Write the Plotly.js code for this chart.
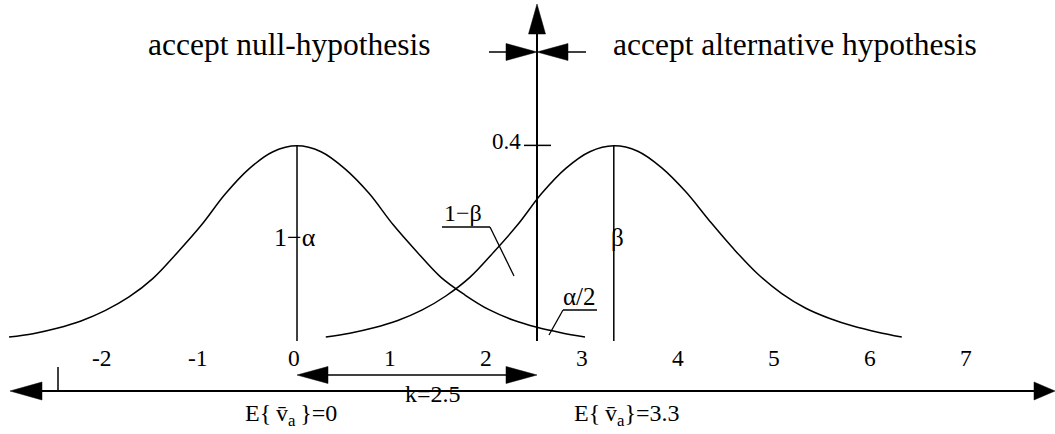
<!DOCTYPE html>
<html>
<head>
<meta charset="utf-8">
<script src="https://cdn.plot.ly/plotly-3.0.1.min.js"></script>
<style>
  html, body { margin: 0; padding: 0; background: #fff; }
  #chart { width: 1055px; height: 434px; }
</style>
</head>
<body>
<div id="chart"></div>
<script>
// Two sampling distributions of the test statistic: null (mean 0) and alternative (mean 3.3),
// with the critical value k = 2.5 splitting acceptance regions.

// Standardised offsets from each mean and the density read at those offsets
const zOffsets   = [-3, -2.75, -2.5, -2.25, -2, -1.75, -1.5, -1.25, -1, -0.75, -0.5, -0.25, 0,
                     0.25, 0.5, 0.75, 1, 1.25, 1.5, 1.75, 2, 2.25, 2.5, 2.75, 3];
const nullDensity = [0.008, 0.015, 0.026, 0.041, 0.062, 0.090, 0.128, 0.180, 0.236, 0.300, 0.352, 0.387, 0.399,
                     0.387, 0.352, 0.302, 0.238, 0.182, 0.130, 0.094, 0.064, 0.043, 0.028, 0.017, 0.008];
const altDensity  = [0.008, 0.016, 0.027, 0.042, 0.063, 0.092, 0.130, 0.182, 0.238, 0.302, 0.353, 0.387, 0.399,
                     0.388, 0.354, 0.305, 0.245, 0.188, 0.137, 0.097, 0.067, 0.046, 0.030, 0.018, 0.008];

const nullMean = 0;
const altMean = 3.3;
const criticalK = 2.5;
const densityTick = 0.4;
const densityTickLabel = '0.4';

const tickValues = [-2, -1, 0, 1, 2, 3, 4, 5, 6, 7];
const tickLabels = ['-2', '-1', '0', '1', '2', '3', '4', '5', '6', '7'];

// ---- drawing frame ----
const W = 1055, H = 434;
const xRange = [-3.094, 7.896];
const yRange = [-0.1902, 0.6973];
const kx = W / (xRange[1] - xRange[0]);   // px per x unit
const ky = H / (yRange[1] - yRange[0]);   // px per y unit
const xp = px => xRange[0] + px / kx;     // pixel column -> x value
const yp = py => yRange[1] - py / ky;     // pixel row -> y value
const X = v => (v - xRange[0]) * kx;      // x value -> pixel column

const FONT = 'Liberation Serif, Times New Roman, serif';
const INK = '#000';

function seg(x0, y0, x1, y1, w) {
  return { type: 'line', xref: 'x', yref: 'y', x0, y0, x1, y1,
           line: { color: INK, width: w || 1.5 } };
}
// filled arrow head: tip and base centre in pixels, half width in pixels
function head(tx, ty, bx, by, hw) {
  const dx = tx - bx, dy = ty - by, L = Math.hypot(dx, dy);
  const nx = -dy / L * hw, ny = dx / L * hw;
  const pts = [[tx, ty], [bx + nx, by + ny], [bx - nx, by - ny]]
    .map(p => xp(p[0]) + ',' + yp(p[1]));
  return { type: 'path', xref: 'x', yref: 'y', path: 'M' + pts.join(' L') + ' Z',
           fillcolor: INK, line: { color: INK, width: 0.5 } };
}

const traces = [
  { x: zOffsets.map(z => nullMean + z), y: nullDensity, mode: 'lines',
    line: { color: INK, width: 1.5, shape: 'spline', smoothing: 1 }, hoverinfo: 'skip' },
  { x: zOffsets.map(z => altMean + z), y: altDensity, mode: 'lines',
    line: { color: INK, width: 1.5, shape: 'spline', smoothing: 1 }, hoverinfo: 'skip' }
];

const axisRow = 391, kRow = 375, splitRow = 52;
const cK = X(criticalK);
const c0 = X(nullMean);
const shapes = [
  // horizontal measurement axis with arrows both ways
  seg(xp(38), yp(axisRow), xp(1036), yp(axisRow), 2),
  head(10, axisRow, 42, axisRow, 9),
  head(1055, axisRow, 1034, axisRow, 9),
  seg(xp(58), yp(367), xp(58), yp(axisRow), 1.5),
  // k span from null mean to the critical value
  seg(xp(c0 + 28), yp(kRow), xp(cK - 28), yp(kRow), 1.5),
  head(c0, kRow, c0 + 31, kRow, 8.5),
  head(cK, kRow, cK - 31, kRow, 8.5),
  // critical value line acting as density axis
  seg(criticalK, 0, criticalK, yp(30), 2),
  head(cK, 4, cK, 34, 8.5),
  { type: 'line', xref: 'x', yref: 'y', x0: xp(cK - 13), x1: xp(cK + 14),
    y0: densityTick, y1: densityTick, line: { color: INK, width: 1.5 } },
  // arrows meeting at the decision boundary
  seg(xp(cK - 48), yp(splitRow), xp(cK - 30), yp(splitRow), 1.5),
  seg(xp(cK + 30), yp(splitRow), xp(cK + 49), yp(splitRow), 1.5),
  head(cK, splitRow, cK - 31, splitRow, 8.5),
  head(cK, splitRow, cK + 31, splitRow, 8.5),
  // mean lines under each peak
  seg(nullMean, 0, nullMean, Math.max(...nullDensity), 1.5),
  seg(altMean, 0, altMean, Math.max(...altDensity), 1.5),
  // leader for 1-beta
  seg(xp(442), yp(227), xp(490), yp(227), 1.3),
  seg(xp(490), yp(227), xp(514), yp(276), 1.3),
  // leader for alpha/2
  seg(xp(563), yp(310), xp(597), yp(310), 1.3),
  seg(xp(563), yp(310), xp(549), yp(335), 1.3)
];

function label(text, x, y, size, extra) {
  return Object.assign({ text, x, y, xref: 'x', yref: 'y', showarrow: false,
    xanchor: 'center', yanchor: 'middle', font: { family: FONT, size, color: INK } }, extra || {});
}

const annotations = [
  label('accept null-hypothesis', xp(289), yp(44), 31.5),
  label('accept alternative hypothesis', xp(795), yp(44), 31.5),
  label(densityTickLabel, xp(cK - 14), yp(141), 23, { xanchor: 'right' }),
  label('1\u2212\u03b1', xp(295), yp(237), 26),
  label('\u03b2', xp(617), yp(237), 25),
  label('1\u2212\u03b2', xp(463), yp(213), 24),
  label('\u03b1/2', xp(579), yp(296), 25),
  label('k=2.5', xp(433), yp(394), 24),
  label('E{\u2009v\u0304<sub>a</sub>\u2009}=0', xp(291), yp(415), 24),
  label('E{\u2009v\u0304<sub>a</sub>}=3.3', xp(627), yp(415), 24)
].concat(tickValues.map((v, i) => label(tickLabels[i], v, yp(358), 23.5, { xshift: -3 })));

const layout = {
  width: W, height: H,
  margin: { l: 0, r: 0, t: 0, b: 0, pad: 0 },
  paper_bgcolor: '#fff', plot_bgcolor: '#fff',
  showlegend: false,
  xaxis: { range: xRange, visible: false, fixedrange: true },
  yaxis: { range: yRange, visible: false, fixedrange: true },
  shapes, annotations
};

Plotly.newPlot('chart', traces, layout, { staticPlot: true, displayModeBar: false });
</script>
</body>
</html>
